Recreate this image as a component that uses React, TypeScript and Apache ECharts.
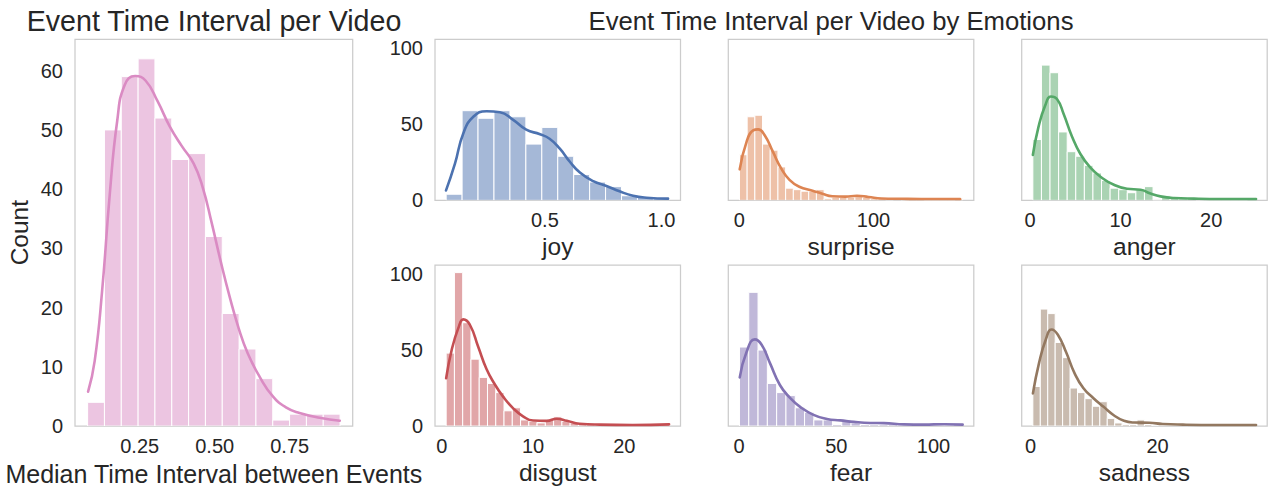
import React, { useEffect, useRef } from "react";
import * as echarts from "echarts";

const FONT = '"Liberation Sans", Arial, Helvetica, sans-serif';
const TEXT = "#262626";
const FRAME = "#cccccc";

// ---------- data ----------
const overallTitle = "Event Time Interval per Video";
const emotionsTitle = "Event Time Interval per Video by Emotions";
const overallXLabel = "Median Time Interval between Events";
const overallYLabel = "Count";

const overallRange = [0.0764, 0.918];
const overallCounts = [4, 50, 59, 62, 52, 45, 46, 32, 19, 13, 8, 1, 2, 2, 2];
const overallKde = [
  [0.078, 5.8], [0.1, 11], [0.125, 23], [0.15, 39], [0.175, 51.5], [0.2, 57.6], [0.235, 59.1],
  [0.27, 58.3], [0.31, 54.8], [0.35, 50.6], [0.39, 47.3], [0.43, 44.3], [0.46, 40.3],
  [0.49, 34.3], [0.52, 27.8], [0.55, 21.8], [0.58, 16.5], [0.61, 12.3], [0.65, 8.3],
  [0.694, 5.0], [0.739, 3.1], [0.783, 2.2], [0.85, 1.4], [0.917, 0.9],
];
const overallXTicks = [0.25, 0.5, 0.75];
const overallYTicks = [0, 10, 20, 30, 40, 50, 60];

const emotions = ["joy", "surprise", "anger", "disgust", "fear", "sadness"];

const joyRange = [0.0766, 1.0336];
const joyCounts = [4, 59, 54, 59, 55, 37, 48, 29, 17, 12, 9, 3, 2, 1];
const joyKde = [
  [0.076, 6.5], [0.114, 24], [0.15, 44], [0.193, 55], [0.25, 58.6], [0.307, 58], [0.364, 53],
  [0.42, 46.5], [0.479, 43.5], [0.52, 40.5], [0.564, 34], [0.607, 25.4], [0.65, 18.3],
  [0.707, 12.6], [0.764, 9.4], [0.82, 5.9], [0.878, 3.0], [0.936, 1.7], [1.028, 1.1],
];
const joyTicks = [0.5, 1.0];

const surpriseRange = [0.1, 166.5];
const surpriseCounts = [30, 55, 56, 37, 33, 22, 8, 7, 6, 6, 7, 1, 2, 2, 2, 3, 2, 1, 1, 0, 1, 0, 1, 1, 0, 0, 0, 0, 1];
const surpriseKde = [
  [0.3, 20.4], [5.4, 38.5], [10.3, 46], [14, 46.7], [18.9, 42.8], [25, 32], [31.2, 21],
  [37.4, 13.5], [44.7, 8.9], [54.6, 6.3], [61.9, 4.3], [69.3, 2.7], [79, 2.4], [87.7, 3],
  [96.3, 2.2], [106, 1.2], [121, 1.0], [135.6, 0.9], [164.6, 0.9],
];
const surpriseTicks = [0, 100];

const angerRange = [0.31, 24.96];
const angerCounts = [40, 89, 84, 45, 32, 29, 23, 18, 13, 8, 7, 5, 7, 9, 0, 3, 2, 1, 1, 0, 0, 0, 0, 0, 0, 1];
const angerKde = [
  [0.31, 29.8], [0.92, 48], [1.67, 62.4], [2.3, 68.3], [2.97, 66.7], [3.7, 57], [4.63, 42],
  [5.56, 30.5], [6.67, 21.5], [7.78, 15.5], [9.26, 10.2], [10.7, 7.6], [12.2, 7], [13.3, 4.5],
  [14.4, 2.6], [15.9, 1.5], [18.1, 1.1], [21.1, 0.9], [24.96, 0.9],
];
const angerTicks = [0, 10, 20];

const disgustRange = [0.48, 24.93];
const disgustCounts = [48, 101, 68, 44, 32, 28, 22, 10, 12, 4, 3, 2, 4, 6, 3, 2, 1, 1, 0, 0, 0, 0, 0, 0, 0, 0, 1];
const disgustKde = [
  [0.48, 31.4], [1.09, 50.2], [1.82, 64.6], [2.36, 70.2], [3.09, 66.5], [4, 52], [4.9, 37.5],
  [5.8, 27.5], [6.7, 19.5], [7.8, 11.8], [8.9, 6.4], [10, 3.6], [11.5, 3.4], [12.6, 4.8],
  [13.7, 3.4], [15.1, 1.5], [17.3, 0.9], [20.9, 0.7], [24.9, 1.1],
];
const disgustTicks = [0, 10, 20];

const fearRange = [0.2, 115];
const fearCounts = [52, 88, 50, 28, 22, 20, 12, 9, 4, 4, 1, 4, 2, 1, 1, 1, 1, 0, 0, 1, 0, 0, 0, 1];
const fearKde = [
  [0.36, 32], [3.8, 48.5], [8.1, 57], [11.6, 53.5], [15.9, 41.4], [21, 27], [26.2, 18.5],
  [31.4, 12.6], [38.3, 7.3], [45.2, 4.6], [52.1, 3.7], [59, 2.7], [67.6, 2], [74.5, 1.9],
  [84.8, 1.1], [95.1, 0.9], [105.5, 1.2], [115, 0.9],
];
const fearTicks = [0, 50, 100];

const sadnessRange = [0.36, 35.5];
const sadnessCounts = [26, 77, 74, 55, 45, 25, 22, 18, 13, 16, 5, 2, 1, 1, 4, 1, 0, 0, 0, 0, 0, 0, 0, 0, 0, 0, 0, 0, 0, 1];
const sadnessKde = [
  [0.37, 21.5], [1.33, 41.4], [2.4, 56.9], [3.3, 63.5], [4.27, 60.2], [5.6, 48.5], [6.9, 35],
  [8.3, 25], [9.9, 18.3], [11.5, 12.6], [13.1, 7.1], [14.7, 3.4], [16.3, 2.3], [18.7, 2.1],
  [20.8, 1.3], [24, 0.9], [29.3, 0.7], [35.5, 0.7],
];
const sadnessTicks = [0, 20];

const smallYTicks = [0, 50, 100];
const smallYMax = 106;
const overallYMax = 65.3;

// ---------- styling / layout ----------
const colors: Record<string, string> = {
  overall: "#da8bc3",
  joy: "#4c72b0",
  surprise: "#dd8452",
  anger: "#55a868",
  disgust: "#c44e52",
  fear: "#8172b3",
  sadness: "#937860",
};

const panelData: Record<string, any> = {
  joy: { range: joyRange, counts: joyCounts, kde: joyKde, ticks: joyTicks, dec: 1 },
  surprise: { range: surpriseRange, counts: surpriseCounts, kde: surpriseKde, ticks: surpriseTicks, dec: 0 },
  anger: { range: angerRange, counts: angerCounts, kde: angerKde, ticks: angerTicks, dec: 0 },
  disgust: { range: disgustRange, counts: disgustCounts, kde: disgustKde, ticks: disgustTicks, dec: 0 },
  fear: { range: fearRange, counts: fearCounts, kde: fearKde, ticks: fearTicks, dec: 0 },
  sadness: { range: sadnessRange, counts: sadnessCounts, kde: sadnessKde, ticks: sadnessTicks, dec: 0 },
};

const colLefts = [435, 728.3, 1021.7];
const colWidth = 245.5;
const rowTops = [39.3, 265];
const rowHeight = 161;

function hexToRgba(hex: string, a: number) {
  const n = parseInt(hex.slice(1), 16);
  return `rgba(${(n >> 16) & 255},${(n >> 8) & 255},${n & 255},${a})`;
}

function binsFrom(range: number[], counts: number[]) {
  const w = (range[1] - range[0]) / counts.length;
  return counts.map((c, i) => [range[0] + i * w, range[0] + (i + 1) * w, c]);
}

function padded(range: number[]) {
  const d = range[1] - range[0];
  return [range[0] - 0.05 * d, range[1] + 0.05 * d];
}

function makeHist(color: string, xi: number, yi: number, data: number[][]) {
  return {
    type: "custom",
    xAxisIndex: xi,
    yAxisIndex: yi,
    clip: true,
    encode: { x: [0, 1], y: 2 },
    data,
    renderItem: (params: any, api: any) => {
      const p0 = api.coord([api.value(0), api.value(2)]);
      const p1 = api.coord([api.value(1), 0]);
      return {
        type: "rect",
        shape: { x: p0[0], y: p0[1], width: p1[0] - p0[0], height: p1[1] - p0[1] },
        style: { fill: hexToRgba(color, 0.5), stroke: "#ffffff", lineWidth: 1 },
      };
    },
  };
}

function makeKde(color: string, xi: number, yi: number, data: number[][]) {
  return {
    type: "line",
    xAxisIndex: xi,
    yAxisIndex: yi,
    data,
    smooth: 0.5,
    symbol: "none",
    clip: true,
    lineStyle: { color, width: 2.6, cap: "round", join: "round" },
    z: 3,
  };
}

const tickLabel = (size: number) => ({ color: TEXT, fontSize: size, fontFamily: FONT });

function buildOption() {
  const grids: any[] = [];
  const xAxes: any[] = [];
  const yAxes: any[] = [];
  const series: any[] = [];

  // overall panel
  grids.push({
    left: 75, top: 39.3, width: 277.7, height: 386.7,
    show: true, borderColor: FRAME, borderWidth: 1.25, backgroundColor: "transparent",
  });
  const ox = padded(overallRange);
  xAxes.push({
    gridIndex: 0, type: "value", min: ox[0], max: ox[1],
    axisLine: { show: false }, axisTick: { show: false }, splitLine: { show: false },
    axisLabel: {
      ...tickLabel(20), margin: 10, customValues: overallXTicks,
      formatter: (v: number) => v.toFixed(2),
    },
    name: overallXLabel, nameLocation: "middle", nameGap: 35,
    nameTextStyle: { color: TEXT, fontSize: 25, fontFamily: FONT },
  });
  yAxes.push({
    gridIndex: 0, type: "value", min: 0, max: overallYMax,
    axisLine: { show: false }, axisTick: { show: false }, splitLine: { show: false },
    axisLabel: {
      ...tickLabel(20), margin: 12, customValues: overallYTicks,
      formatter: (v: number) => v.toFixed(0),
    },
    name: overallYLabel, nameLocation: "middle", nameGap: 43,
    nameTextStyle: { color: TEXT, fontSize: 24.5, fontFamily: FONT },
  });
  series.push(makeHist(colors.overall, 0, 0, binsFrom(overallRange, overallCounts)));
  series.push(makeKde(colors.overall, 0, 0, overallKde));

  emotions.forEach((emo, k) => {
    const gi = k + 1;
    const col = k % 3;
    const row = Math.floor(k / 3);
    const pd = panelData[emo];
    grids.push({
      left: colLefts[col], top: rowTops[row], width: colWidth, height: rowHeight,
      show: true, borderColor: FRAME, borderWidth: 1.25, backgroundColor: "transparent",
    });
    const px = padded(pd.range);
    xAxes.push({
      gridIndex: gi, type: "value", min: px[0], max: px[1],
      axisLine: { show: false }, axisTick: { show: false }, splitLine: { show: false },
      axisLabel: {
        ...tickLabel(20), margin: 10, customValues: pd.ticks,
        formatter: (v: number) => v.toFixed(pd.dec),
      },
      name: emo, nameLocation: "middle", nameGap: 34,
      nameTextStyle: { color: TEXT, fontSize: 24.5, fontFamily: FONT },
    });
    yAxes.push({
      gridIndex: gi, type: "value", min: 0, max: smallYMax,
      axisLine: { show: false }, axisTick: { show: false }, splitLine: { show: false },
      axisLabel: {
        show: col === 0,
        ...tickLabel(20), margin: 12, customValues: smallYTicks,
        formatter: (v: number) => v.toFixed(0),
      },
    });
    series.push(makeHist(colors[emo], gi, gi, binsFrom(pd.range, pd.counts)));
    series.push(makeKde(colors[emo], gi, gi, pd.kde));
  });

  return {
    animation: false,
    backgroundColor: "#ffffff",
    textStyle: { fontFamily: FONT },
    grid: grids,
    xAxis: xAxes,
    yAxis: yAxes,
    series,
    graphic: [
      {
        type: "text", x: 214, y: 21,
        style: {
          text: overallTitle, fill: TEXT, fontSize: 28.6, fontFamily: FONT,
          textAlign: "center", textVerticalAlign: "middle",
        },
      },
      {
        type: "text", x: 831, y: 21,
        style: {
          text: emotionsTitle, fill: TEXT, fontSize: 25.7, fontFamily: FONT,
          textAlign: "center", textVerticalAlign: "middle",
        },
      },
    ],
  };
}

export default function App() {
  const ref = useRef<HTMLDivElement>(null);
  useEffect(() => {
    if (!ref.current) return;
    const chart = echarts.init(ref.current, undefined, { renderer: "svg" });
    chart.setOption(buildOption() as any);
    return () => chart.dispose();
  }, []);
  return (
    <div
      ref={ref}
      style={{ position: "fixed", left: 0, top: 0, width: 1271, height: 494, background: "#fff" }}
    />
  );
}
